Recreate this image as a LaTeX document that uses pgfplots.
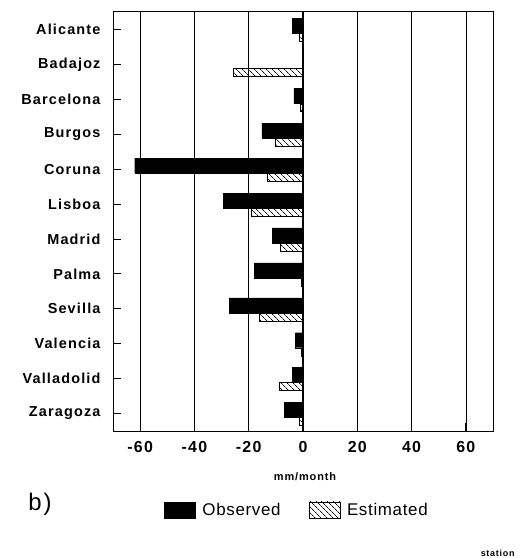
\documentclass[border=0pt]{standalone}
\usepackage{fontspec}
\setmainfont{Liberation Sans}[LetterSpace=8]
\usepackage{pgfplots}
\pgfplotsset{compat=1.18}
\usetikzlibrary{patterns.meta}

\begin{document}
\begin{tikzpicture}[x=1bp,y=1bp]
\useasboundingbox (0,0) rectangle (523,558);
\begin{axis}[
  at={(113bp,127bp)}, anchor=south west,
  scale only axis, width=380bp, height=419bp,
  xbar,
  y dir=reverse,
  ymin=-0.5, ymax=11.5,
  xmin=-70, xmax=70,
  ytick={0,...,11},
  yticklabels={Alicante,Badajoz,Barcelona,Burgos,Coruna,Lisboa,Madrid,Palma,Sevilla,Valencia,Valladolid,Zaragoza},
  xtick={-60,-40,-20,0,20,40,60},
  xticklabels={-60,-40,-20,0,20,40,60},
  xtick pos=left, ytick pos=left,
  tick align=inside,
  major tick length=8bp,
  tick style={black, line width=0.8pt},
  axis line style={line width=1pt},
  xmajorgrids,
  major grid style={black, line width=0.7pt},
  yticklabel style={font=\fontsize{14.5}{17}\selectfont\bfseries, xshift=-9bp},
  xticklabel style={font=\fontsize{16}{19}\selectfont\bfseries, yshift=-7bp},
  legend columns=2,
  legend style={at={(0.484,-0.1885)}, anchor=center, draw=none,
    font=\fontsize{17}{20}\selectfont\addfontfeature{LetterSpace=4},
    /tikz/every odd column/.append style={column sep=5bp},
    /tikz/every even column/.append style={column sep=26bp}},
]
\addplot[fill=black, draw=black, bar width=0.43, bar shift=-0.1,
  legend image code/.code={\draw[fill=black,draw=black] (0bp,-8bp) rectangle (31bp,8bp);}]
  coordinates {(-4,0) (-3.4,2) (-15.2,3) (-62,4) (-29.3,5) (-11.4,6) (-18,7) (-27.2,8) (-2.7,9) (-3.8,10) (-6.9,11)};
\addlegendentry{Observed}
\addplot[draw=black, pattern={Lines[angle=-45,distance=4pt,line width=0.7pt]}, bar width=0.23, bar shift=0.23,
  legend image code/.code={\draw[draw=black, pattern={Lines[angle=-45,distance=4pt,line width=0.7pt]}] (0bp,-8bp) rectangle (31bp,8bp);}]
  coordinates {(-1.3,0) (-25.6,1) (-1,2) (-10.3,3) (-13.3,4) (-19,5) (-8.3,6) (-0.5,7) (-16.1,8) (-0.8,9) (-8.9,10) (-1.5,11)};
\addlegendentry{Estimated}
\draw[line width=1.1pt] (axis cs:0,-0.5) -- (axis cs:0,11.5);
\end{axis}
\node[font=\fontsize{11}{13}\selectfont\bfseries] at (305,81) {mm/month};
\node[font=\fontsize{24}{28}\selectfont] at (40,54) {b)};
\node[anchor=east, font=\fontsize{9}{11}\selectfont\bfseries] at (518,5) {station};
\end{tikzpicture}
\end{document}
